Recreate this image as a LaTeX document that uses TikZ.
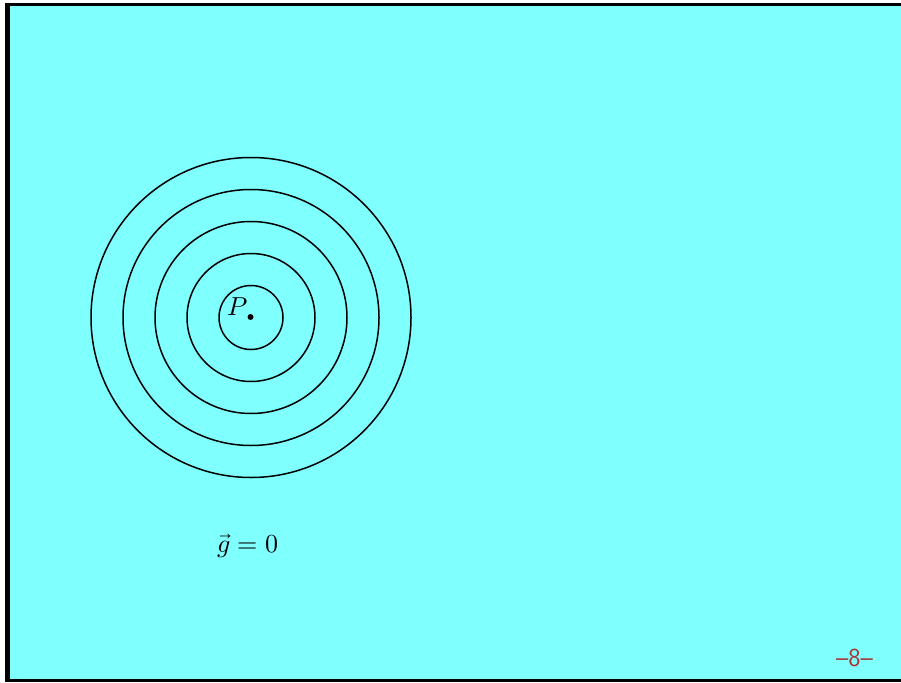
\documentclass[tikz,border=0pt]{standalone}
\usepackage{unicode-math}
\setmathfont{Latin Modern Math}
\definecolor{bgcyan}{RGB}{128,255,255}
\definecolor{pagenum}{RGB}{170,50,50}
\begin{document}
\begin{tikzpicture}[x=1pt,y=-1pt,
  ring/.style={draw=black,line width=1.5pt},
  lab/.style={inner sep=0pt,font=\fontsize{26}{30}\selectfont}]
\useasboundingbox (0,0) rectangle (901,682);
\fill[white] (0,0) rectangle (901,682);
\fill[black] (5,3) rectangle (901,682);
\fill[bgcyan] (10,6) rectangle (901,679);
\coordinate (c) at (251,317.5);
\coordinate (d) at (250.5,317);
\foreach \r in {32,64,96,128,160} \draw[ring] (c) circle (\r);
\fill (d) circle (3);
\node[lab,anchor=base] (p) at (238,315) {$P$};
\node[lab,anchor=base] (g) at (248,552) {$\vec g = 0$};
\node[inner sep=0pt,anchor=base,text=pagenum,font=\fontsize{26}{30}\selectfont\sffamily] (n) at (854.5,666) {--8--};
\end{tikzpicture}
\end{document}
